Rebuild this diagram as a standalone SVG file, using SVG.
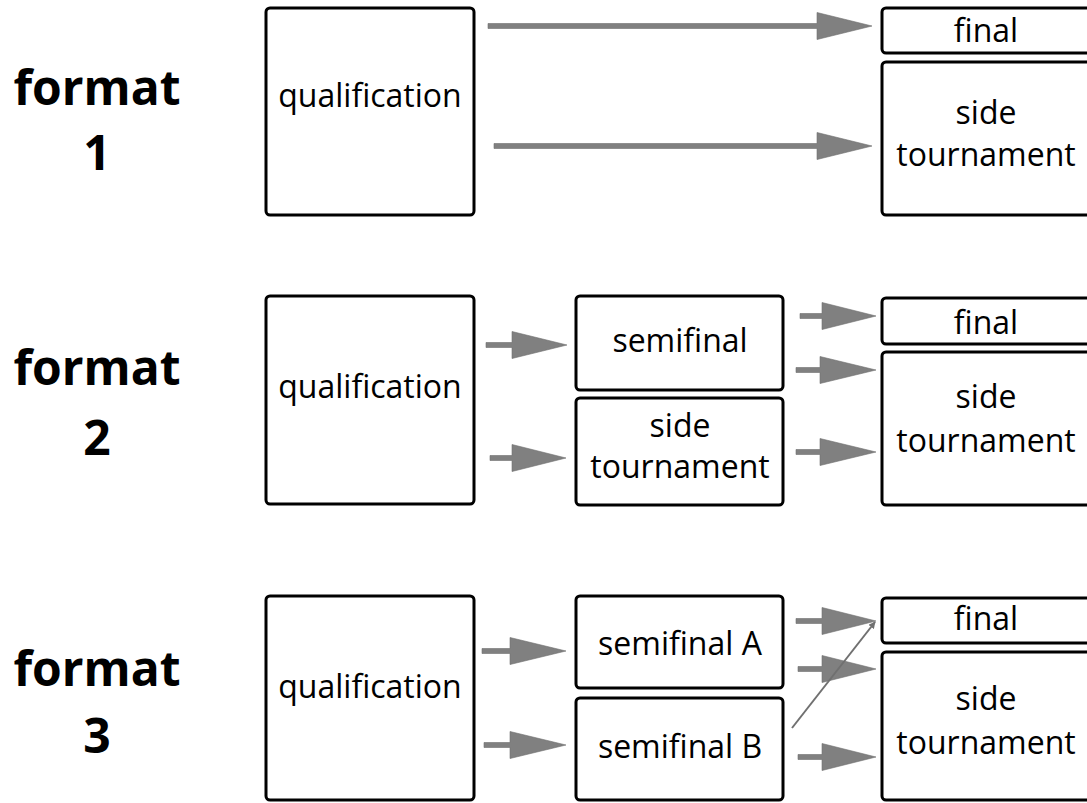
<svg xmlns="http://www.w3.org/2000/svg" width="1087" height="803" viewBox="0 0 1087 803">
<style>
.box{fill:#fff;stroke:#000;stroke-width:3}
.t{font-family:"Open Sans","Noto Sans",sans-serif;font-size:32px;fill:#000;text-anchor:middle}
.h{font-family:"Open Sans","Noto Sans",sans-serif;font-size:48px;font-weight:bold;fill:#000;text-anchor:middle}
.arr{fill:#808080;stroke:#6e6e6e;stroke-width:0.6}
.thin{stroke:#707070;stroke-width:2;fill:none}
</style>
<defs>
<marker id="mh" viewBox="0 0 10 10" refX="9" refY="5" markerWidth="7" markerHeight="7" markerUnits="userSpaceOnUse" orient="auto"><path d="M0,0 L10,5 L0,10 Z" fill="#707070"/></marker>
</defs>
<rect width="1087" height="803" fill="#fff"/>
<g id="labels">
<text class="h" x="97" y="105">format</text>
<text class="h" x="97" y="170">1</text>
<text class="h" x="97" y="385">format</text>
<text class="h" x="97" y="455">2</text>
<text class="h" x="97" y="686">format</text>
<text class="h" x="97" y="753">3</text>
</g>
<g id="f1-qual"><rect class="box" x="266" y="8" width="208" height="207" rx="4"/><text class="t" x="370" y="107">qualification</text></g>
<g id="f1-final"><rect class="box" x="882" y="8" width="220" height="45" rx="4"/><text class="t" x="986" y="42">final</text></g>
<g id="f1-side"><rect class="box" x="882" y="62" width="220" height="153" rx="4"/><text class="t" x="986" y="124">side</text><text class="t" x="986" y="166">tournament</text></g>

<g id="f2-qual"><rect class="box" x="266" y="296" width="208" height="208" rx="4"/><text class="t" x="370" y="398">qualification</text></g>
<g id="f2-semi"><rect class="box" x="576" y="296" width="207" height="94" rx="4"/><text class="t" x="680" y="352">semifinal</text></g>
<g id="f2-side-mid"><rect class="box" x="576" y="398" width="207" height="107" rx="4"/><text class="t" x="680" y="437">side</text><text class="t" x="680" y="478">tournament</text></g>
<g id="f2-final"><rect class="box" x="882" y="298" width="220" height="46" rx="4"/><text class="t" x="986" y="334">final</text></g>
<g id="f2-side"><rect class="box" x="882" y="352" width="220" height="153" rx="4"/><text class="t" x="986" y="408">side</text><text class="t" x="986" y="452">tournament</text></g>

<g id="f3-qual"><rect class="box" x="266" y="596" width="208" height="204" rx="4"/><text class="t" x="370" y="698">qualification</text></g>
<g id="f3-semiA"><rect class="box" x="576" y="596" width="207" height="92" rx="4"/><text class="t" x="680" y="655">semifinal A</text></g>
<g id="f3-semiB"><rect class="box" x="576" y="698" width="207" height="102" rx="4"/><text class="t" x="680" y="758">semifinal B</text></g>
<g id="f3-final"><rect class="box" x="882" y="598" width="220" height="45" rx="4"/><text class="t" x="986" y="630">final</text></g>
<g id="f3-side"><rect class="box" x="882" y="652" width="220" height="148" rx="4"/><text class="t" x="986" y="710">side</text><text class="t" x="986" y="754">tournament</text></g>

<g id="connectors">
<path class="arr" d="M488,23.5 H817 V12.5 L872,26 L817,39.5 V28.5 H488 Z"/>
<path class="arr" d="M494,143.5 H817 V132.5 L872,146 L817,159.5 V148.5 H494 Z"/>

<path class="arr" d="M486,342.5 H512 V331.5 L567,345 L512,358.5 V347.5 H486 Z"/>
<path class="arr" d="M490,455.5 H512 V444.5 L566,458 L512,471.5 V460.5 H490 Z"/>
<path class="arr" d="M800,313.5 H822 V302.5 L876,316 L822,329.5 V318.5 H800 Z"/>
<path class="arr" d="M796,367.5 H820 V356.5 L876,370 L820,383.5 V372.5 H796 Z"/>
<path class="arr" d="M796,449.5 H820 V438.5 L876,452 L820,465.5 V454.5 H796 Z"/>

<path class="arr" d="M482,648.5 H510 V637.5 L566,651 L510,664.5 V653.5 H482 Z"/>
<path class="arr" d="M484,742.5 H510 V731.5 L566,745 L510,758.5 V747.5 H484 Z"/>
<path class="arr" d="M796,618.5 H822 V607.5 L876,621 L822,634.5 V623.5 H796 Z"/>
<path class="arr" d="M798,666.5 H822 V655.5 L876,669 L822,682.5 V671.5 H798 Z"/>
<path class="arr" d="M798,754.5 H822 V743.5 L876,757 L822,770.5 V759.5 H798 Z"/>
<line class="thin" x1="792" y1="728" x2="875" y2="622" marker-end="url(#mh)"/>
</g>
</svg>
